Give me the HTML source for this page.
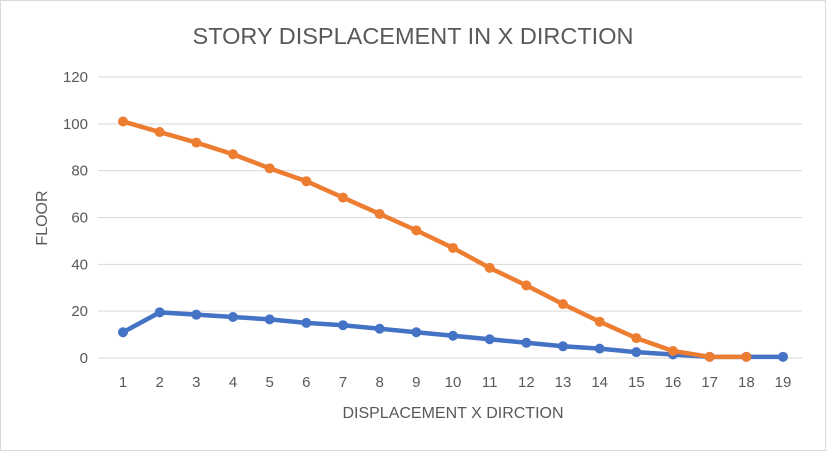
<!DOCTYPE html>
<html><head><meta charset="utf-8"><style>
html,body{margin:0;padding:0;background:#fff}
svg{display:block;font-family:"Liberation Sans",sans-serif}
</style></head><body>
<svg width="826" height="451">
<rect x="0.5" y="0.5" width="825" height="450" fill="#fff" stroke="#d9d9d9"/>
<text x="413" y="44" text-anchor="middle" font-size="23.5" fill="#595959">STORY DISPLACEMENT IN X DIRCTION</text>
<g id="grid"></g><g id="ylab"></g><g id="xlab"></g><g id="series"></g>
<text x="453" y="418" text-anchor="middle" font-size="16" fill="#595959">DISPLACEMENT  X DIRCTION</text>
<text transform="translate(47,218) rotate(-90)" text-anchor="middle" font-size="16" fill="#595959">FLOOR</text>
</svg>
<script>
const categories=[1,2,3,4,5,6,7,8,9,10,11,12,13,14,15,16,17,18,19];
const yTicks=[0,20,40,60,80,100,120];
const orangeValues=[101,96.5,92,87,81,75.5,68.5,61.5,54.5,47,38.5,31,23,15.5,8.5,3,0.5,0.5];
const blueValues=[11,19.5,18.5,17.5,16.5,15,14,12.5,11,9.5,8,6.5,5,4,2.5,1.5,0.5,0.5,0.5];
const NS="http://www.w3.org/2000/svg";
const x0=98,x1=802,y0=358,y1=77;
const px0=123,px1=783;
const xs=i=>px0+(px1-px0)*i/(categories.length-1);
const ys=v=>y0-(v/120)*(y0-y1);
function mk(t,a,p){const e=document.createElementNS(NS,t);for(const k in a)e.setAttribute(k,a[k]);p.appendChild(e);return e;}
const g=document.getElementById('grid'),yl=document.getElementById('ylab'),xl=document.getElementById('xlab'),s=document.getElementById('series');
yTicks.forEach(v=>{
 const l=mk('line',{x1:x0,x2:x1,y1:ys(v),y2:ys(v),stroke:'#d9d9d9','stroke-width':1},g);
 
 
 const t=mk('text',{x:88,y:ys(v)+5,'text-anchor':'end','font-size':15,fill:'#595959'},yl);
 t.textContent=v;
 
 
});
categories.forEach((c,i)=>{
 const t=mk('text',{x:xs(i),y:387,'text-anchor':'middle','font-size':15,fill:'#595959'},xl);
 t.textContent=c;
 
 
});
function draw(vals,color,name){
 const pts=vals.map((v,i)=>xs(i)+','+ys(v)).join(' ');
 const pl=mk('polyline',{points:pts,fill:'none',stroke:color,'stroke-width':4.5,'stroke-linejoin':'round','stroke-linecap':'round'},s);
 
 
 vals.forEach((v,i)=>{
  const c=mk('circle',{cx:xs(i),cy:ys(v),r:5,fill:color},s);
  
  
 });
}
draw(blueValues,'#4472c4','blue-series');
draw(orangeValues,'#ed7d31','orange-series');
</script>
</body></html>
